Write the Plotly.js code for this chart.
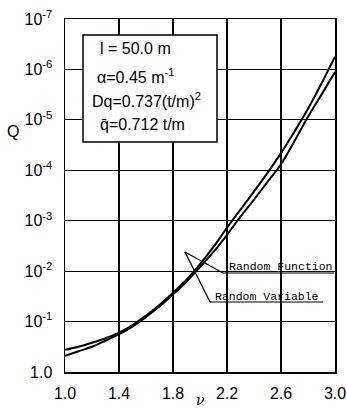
<!DOCTYPE html>
<html><head><meta charset="utf-8">
<script src="https://cdn.plot.ly/plotly-3.0.1.min.js"></script>
<style>html,body{margin:0;padding:0;background:#fff}#c{width:347px;height:409px}</style>
</head><body><div id="c"></div>
<script>
// data (Q on a log scale, stored as log10 Q)
const nu = [1.0,1.1,1.2,1.3,1.4,1.5,1.6,1.7,1.8,1.9,2.0,2.1,2.2,2.3,2.4,2.5,2.6,2.7,2.8,2.9,3.0];
const logQ_randomFunction = [-0.44,-0.50,-0.58,-0.67,-0.78,-0.93,-1.12,-1.33,-1.57,-1.83,-2.14,-2.48,-2.86,-3.22,-3.58,-3.95,-4.34,-4.77,-5.22,-5.72,-6.25];
const logQ_randomVariable = [-0.32,-0.41,-0.50,-0.62,-0.75,-0.90,-1.09,-1.30,-1.54,-1.79,-2.08,-2.38,-2.72,-3.08,-3.42,-3.77,-4.12,-4.58,-5.06,-5.50,-5.95];
const xTickVals = [1.0,1.4,1.8,2.2,2.6,3.0];
const xTickText = ['1.0','1.4','1.8','2.2','2.6','3.0'];
const yTickExp = [0,-1,-2,-3,-4,-5,-6,-7];
const yTickText = ['1.0','10<sup>-1</sup>','10<sup>-2</sup>','10<sup>-3</sup>','10<sup>-4</sup>','10<sup>-5</sup>','10<sup>-6</sup>','10<sup>-7</sup>'];
const paramLines = ['l = 50.0 m','α=0.45 m<sup>-1</sup>','Dq=0.737(t/m)<sup>2</sup>','q̄=0.712 t/m'];
const seriesNames = ['Random Function','Random Variable'];

const W=347,H=409,L=65,R=335,T=19,B=372;
const px=x=>(x-L)/(R-L), py=y=>(B-y)/(B-T);
const FONT='Liberation Sans, Arial, sans-serif';
const MONO='Liberation Mono, DejaVu Sans Mono, monospace';

const toQ=a=>a.map(v=>Math.pow(10,v));
const traces=[
 {x:nu,y:toQ(logQ_randomFunction),name:seriesNames[0],mode:'lines',line:{color:'#000',width:2,shape:'spline'}},
 {x:nu,y:toQ(logQ_randomVariable),name:seriesNames[1],mode:'lines',line:{color:'#000',width:2,shape:'spline'}}
];

const paramX=[98,95,90,98], paramY=[48,76,100,125];
const annotations=paramLines.map((t,i)=>({xref:'paper',yref:'paper',x:px(paramX[i]),y:py(paramY[i]),xanchor:'left',yanchor:'middle',text:t,showarrow:false,font:{family:FONT,size:16,color:'#000'}}));
annotations.push({xref:'paper',yref:'paper',x:px(227),y:py(266),xanchor:'left',yanchor:'middle',text:seriesNames[0],showarrow:false,font:{family:MONO,size:11.5,color:'#000'}});
annotations.push({xref:'paper',yref:'paper',x:px(213),y:py(296),xanchor:'left',yanchor:'middle',text:seriesNames[1],showarrow:false,font:{family:MONO,size:11.5,color:'#000'}});
annotations.push({xref:'paper',yref:'paper',x:px(13),y:py(131),xanchor:'center',yanchor:'middle',text:'Q',showarrow:false,font:{family:FONT,size:16,color:'#000'}});
annotations.push({xref:'paper',yref:'paper',x:px(200),y:py(400),xanchor:'center',yanchor:'middle',text:'<i>ν</i>',showarrow:false,borderpad:0,font:{family:'DejaVu Serif, serif',size:14,color:'#000'}});

const ln={color:'#000',width:1.2};
const shapes=[
 {type:'rect',xref:'paper',yref:'paper',x0:px(83),x1:px(217),y0:py(142),y1:py(35),fillcolor:'#fff',line:{color:'#000',width:1.5},layer:'above'},
 {type:'line',xref:'paper',yref:'paper',x0:px(185),y0:py(252),x1:px(223),y1:py(273),line:ln},
 {type:'line',xref:'paper',yref:'paper',x0:px(223),y0:py(273),x1:px(334),y1:py(273),line:ln},
 {type:'line',xref:'paper',yref:'paper',x0:px(185),y0:py(252),x1:px(210),y1:py(302),line:ln},
 {type:'line',xref:'paper',yref:'paper',x0:px(210),y0:py(302),x1:px(323),y1:py(302),line:ln}
];

const layout={
 width:W,height:H,margin:{l:L,r:W-R,t:T,b:H-B,pad:0},
 paper_bgcolor:'#fff',plot_bgcolor:'#fff',showlegend:false,
 font:{family:FONT,size:16,color:'#000'},
 xaxis:{range:[1.0,3.0],tickvals:xTickVals,ticktext:xTickText,showgrid:true,gridcolor:'#000',gridwidth:1.2,
   showline:true,linecolor:'#000',linewidth:1.5,mirror:true,ticks:'',zeroline:false,ticklabelstandoff:6,tickfont:{family:FONT,size:16}},
 yaxis:{type:'log',range:[0,-7],tickvals:yTickExp.map(e=>Math.pow(10,e)),ticktext:yTickText,showgrid:true,gridcolor:'#000',gridwidth:1.2,
   showline:true,linecolor:'#000',linewidth:1.5,mirror:true,ticks:'',zeroline:false,ticklabelstandoff:8,tickfont:{family:FONT,size:16}},
 annotations:annotations,shapes:shapes
};
Plotly.newPlot('c',traces,layout,{staticPlot:true,displayModeBar:false});
</script></body></html>
